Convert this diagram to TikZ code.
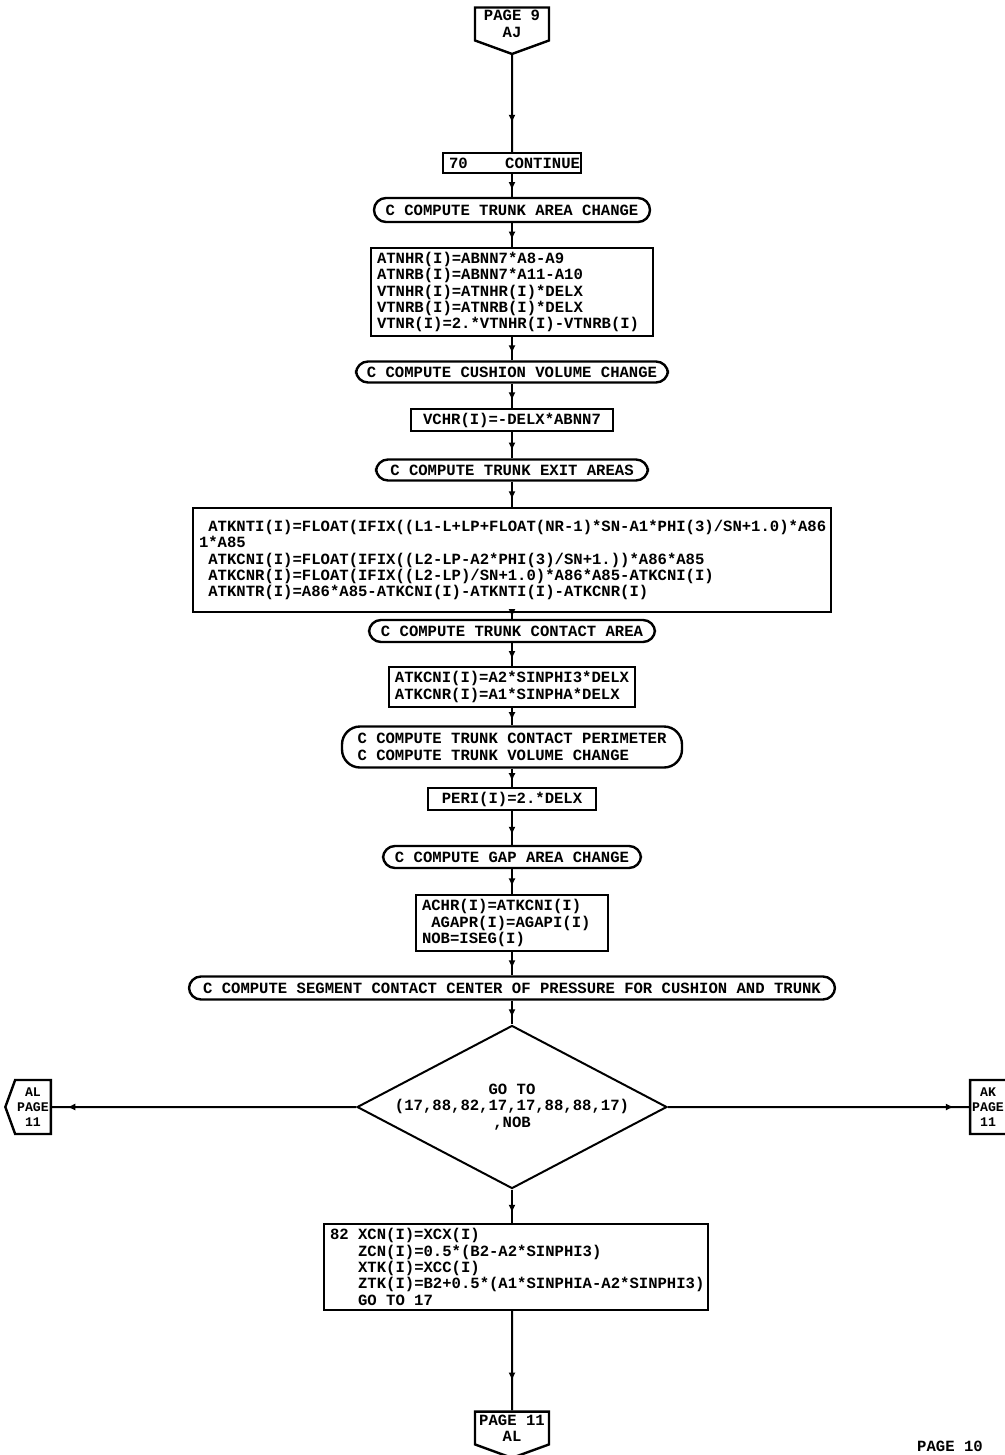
\documentclass[tikz,border=0pt]{standalone}
\usepackage{fontspec}
\setmonofont{Liberation Mono}
\usetikzlibrary{shapes.geometric, shapes.symbols, arrows.meta, decorations.markings}

\begin{document}
\begin{tikzpicture}[
        x=0.5pt, y=-0.5pt,
        every node/.style = {font=\ttfamily\bfseries\fontsize{7.8}{8.2}\selectfont},
        stmt/.style = {draw, line width=1.2pt, align=left, inner xsep=3pt, inner ysep=2pt, execute at begin node={\spaceskip=0.6em\relax}},
        remark/.style = {draw, line width=1.2pt, rounded corners=6pt, align=left, inner xsep=4pt, inner ysep=2pt},
        decide/.style = {draw, diamond, line width=1pt, align=center, aspect=1.9, inner sep=-1pt},
        offpage/.style = {draw, signal, line width=1.2pt, signal pointer angle=140, align=center, inner sep=1.5pt},
        sidepage/.style = {offpage, font=\ttfamily\bfseries\fontsize{6.6}{7.4}\selectfont, inner sep=1pt, minimum height=27pt},
        flow/.style = {line width=1pt, postaction={decorate}, decoration={markings, mark=at position 0.7 with {\arrow{Latex[length=4pt, width=3.5pt]}}}},
        sideflow/.style = {line width=1pt, postaction={decorate}, decoration={markings, mark=at position 0.95 with {\arrow{Latex[length=4pt, width=3.5pt]}}}},
    ]
        \useasboundingbox (0,0) rectangle (1005,1455);

        \node[offpage, signal to=south, minimum width=37pt] (pg9) at (512,24) {PAGE 9\\AJ};
        \node[stmt, text width=63pt, minimum height=10pt] (c70) at (512,163) {70\phantom{0000}CONTINUE};
        \node[remark, minimum width=138pt, minimum height=12pt] (cm1) at (512,210) {C COMPUTE TRUNK AREA CHANGE};
        \node[stmt, text width=135pt, minimum height=44pt] (blk1) at (512,292) {ATNHR(I)=ABNN7*A8-A9\\ATNRB(I)=ABNN7*A11-A10\\VTNHR(I)=ATNHR(I)*DELX\\VTNRB(I)=ATNRB(I)*DELX\\VTNR(I)=2.*VTNHR(I)-VTNRB(I)};
        \node[remark, minimum width=156pt, minimum height=10.5pt] (cm2) at (512,372) {C COMPUTE CUSHION VOLUME CHANGE};
        \node[stmt, minimum width=101pt, minimum height=9pt, align=center] (blk2) at (512,420) {VCHR(I)=-DELX*ABNN7};
        \node[remark, minimum width=136pt, minimum height=10.5pt] (cm3) at (512,470) {C COMPUTE TRUNK EXIT AREAS};
        \node[stmt, text width=313pt, minimum height=52pt] (blk3) at (512,560) {\phantom{0}ATKNTI(I)=FLOAT(IFIX((L1-L+LP+FLOAT(NR-1)*SN-A1*PHI(3)/SN+1.0)*A86\\1*A85\\\phantom{0}ATKCNI(I)=FLOAT(IFIX((L2-LP-A2*PHI(3)/SN+1.))*A86*A85\\\phantom{0}ATKCNR(I)=FLOAT(IFIX((L2-LP)/SN+1.0)*A86*A85-ATKCNI(I)\\\phantom{0}ATKNTR(I)=A86*A85-ATKCNI(I)-ATKNTI(I)-ATKCNR(I)};
        \node[remark, minimum width=143pt, minimum height=11pt] (cm4) at (512,631) {C COMPUTE TRUNK CONTACT AREA};
        \node[stmt, minimum width=116pt, minimum height=20pt, align=left] (blk4) at (512,687) {ATKCNI(I)=A2*SINPHI3*DELX\\ATKCNR(I)=A1*SINPHA*DELX};
        \node[remark, rounded corners=9pt, minimum width=170pt, minimum height=20.5pt] (cm5) at (512,747) {C COMPUTE TRUNK CONTACT PERIMETER\\C COMPUTE TRUNK VOLUME CHANGE};
        \node[stmt, minimum width=84pt, minimum height=10pt, align=center] (blk5) at (512,799) {PERI(I)=2.*DELX};
        \node[remark, minimum width=129pt, minimum height=11pt] (cm6) at (512,857) {C COMPUTE GAP AREA CHANGE};
        \node[stmt, text width=90pt, minimum height=28pt] (blk6) at (512,923) {ACHR(I)=ATKCNI(I)\\\phantom{0}AGAPR(I)=AGAPI(I)\\NOB=ISEG(I)};
        \node[remark, minimum width=323pt, minimum height=11.5pt] (cm7) at (512,988) {C COMPUTE SEGMENT CONTACT CENTER OF PRESSURE FOR CUSHION AND TRUNK};
        \node[decide] (sel) at (512,1107) {GO TO\\(17,88,82,17,17,88,88,17)\\,NOB};
        \node[sidepage, signal to=west] (al) at (33,1107) {AL\\PAGE\\11};
        \node[sidepage, signal to=east] (ak) at (988,1107) {AK\\PAGE\\11};
        \node[stmt, text width=186pt, minimum height=43pt] (blk7) at (516,1267) {82 XCN(I)=XCX(I)\\\phantom{000}ZCN(I)=0.5*(B2-A2*SINPHI3)\\\phantom{000}XTK(I)=XCC(I)\\\phantom{000}ZTK(I)=B2+0.5*(A1*SINPHIA-A2*SINPHI3)\\\phantom{000}GO TO 17};
        \node[offpage, signal to=south, minimum width=37pt] (pg11) at (512,1428) {PAGE 11\\AL};
        \node (pgno) at (950,1446) {PAGE 10};

        \draw[flow] (pg9) -- (c70);
        \draw[flow] (c70) -- (cm1);
        \draw[flow] (cm1) -- (blk1);
        \draw[flow] (blk1) -- (cm2);
        \draw[flow] (cm2) -- (blk2);
        \draw[flow] (blk2) -- (cm3);
        \draw[flow] (cm3) -- (blk3);
        \draw[flow] (blk3) -- (cm4);
        \draw[flow] (cm4) -- (blk4);
        \draw[flow] (blk4) -- (cm5);
        \draw[flow] (cm5) -- (blk5);
        \draw[flow] (blk5) -- (cm6);
        \draw[flow] (cm6) -- (blk6);
        \draw[flow] (blk6) -- (cm7);
        \draw[flow] (cm7) -- (sel);
        \draw[sideflow] (sel) -- (al);
        \draw[sideflow] (sel) -- (ak);
        \draw[flow] (sel) -- (sel |- blk7.north);
        \draw[flow] (sel |- blk7.south) -- (pg11);
    \end{tikzpicture}
\end{document}
